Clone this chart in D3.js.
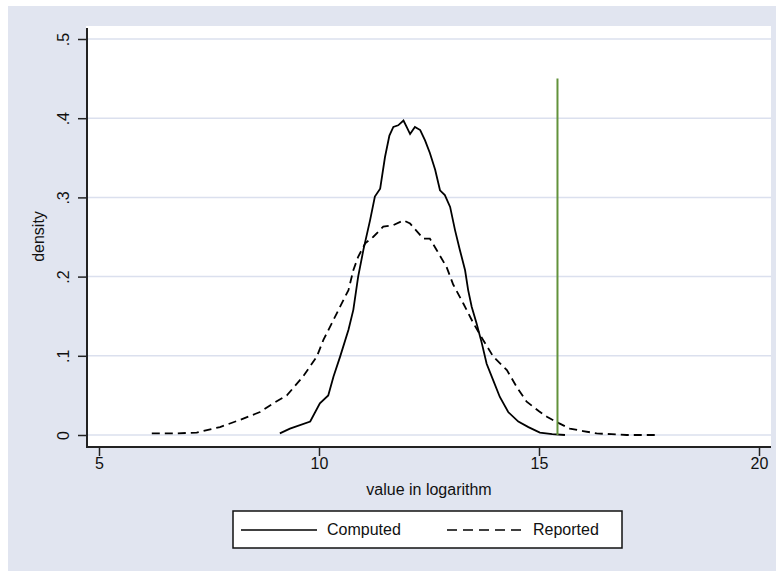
<!DOCTYPE html>
<html>
<head>
<meta charset="utf-8">
<script src="https://cdn.jsdelivr.net/npm/d3@7"></script>
<style>
  html, body { margin: 0; padding: 0; background: #fff; overflow: hidden; }
  svg { display: block; }
  svg text { font-family: "Liberation Sans", Arial, sans-serif; fill: #111; }
</style>
</head>
<body>
<div id="density-chart"></div>
<script>
// log values and kernel density estimates
var computedX = [9.11, 9.34, 9.80, 10.02, 10.21, 10.33, 10.48, 10.67, 10.78, 10.89, 11.01, 11.16, 11.27, 11.39, 11.50, 11.60, 11.69, 11.80, 11.92, 12.00, 12.07, 12.18, 12.30, 12.41, 12.52, 12.64, 12.75, 12.86, 12.98, 13.09, 13.20, 13.32, 13.39, 13.47, 13.58, 13.70, 13.81, 13.96, 14.11, 14.30, 14.53, 14.76, 15.02, 15.30, 15.59];
var computedY = [0.002, 0.008, 0.017, 0.040, 0.050, 0.074, 0.099, 0.133, 0.158, 0.200, 0.234, 0.271, 0.301, 0.311, 0.351, 0.378, 0.389, 0.391, 0.397, 0.388, 0.380, 0.389, 0.385, 0.372, 0.356, 0.335, 0.309, 0.303, 0.288, 0.259, 0.234, 0.208, 0.183, 0.162, 0.141, 0.116, 0.090, 0.069, 0.048, 0.029, 0.017, 0.010, 0.003, 0.001, 0.000];

var reportedX = [6.20, 6.70, 7.22, 7.75, 8.20, 8.66, 8.96, 9.27, 9.64, 9.95, 10.10, 10.29, 10.48, 10.67, 10.78, 10.89, 11.05, 11.23, 11.46, 11.69, 11.92, 12.07, 12.37, 12.52, 12.67, 12.90, 13.05, 13.28, 13.51, 13.73, 13.96, 14.27, 14.49, 14.72, 15.00, 15.18, 15.45, 15.70, 16.00, 16.31, 16.65, 16.99, 17.35, 17.71];
var reportedY = [0.002, 0.002, 0.003, 0.010, 0.019, 0.029, 0.040, 0.050, 0.074, 0.099, 0.120, 0.141, 0.162, 0.183, 0.208, 0.225, 0.242, 0.250, 0.263, 0.265, 0.271, 0.267, 0.248, 0.248, 0.234, 0.212, 0.190, 0.166, 0.141, 0.120, 0.099, 0.082, 0.061, 0.042, 0.030, 0.023, 0.015, 0.008, 0.005, 0.002, 0.001, 0.000, 0.000, 0.000];

var markerX = 15.42;
var markerY = [0, 0.45];

var xTicks = [5, 10, 15, 20];
var yTicks = [0, 0.1, 0.2, 0.3, 0.4, 0.5];
var legendLabels = ['Computed', 'Reported'];

// svg drawn a bit larger than the window so the graph region runs off the edges
var width = 820, height = 620;
var plot = { left: 87, right: 771, top: 26, bottom: 447 };

var svg = d3.select('#density-chart').append('svg')
  .attr('width', width).attr('height', height);

// graph region + plot region
svg.append('rect').attr('x', 8).attr('y', 6)
  .attr('width', width - 8).attr('height', height - 6)
  .attr('fill', '#e1e5f0');
svg.append('rect').attr('x', plot.left - 1).attr('y', plot.top)
  .attr('width', plot.right - plot.left + 1).attr('height', plot.bottom - plot.top)
  .attr('fill', '#fff');

var x = d3.scaleLinear().domain([5, 20]).range([99, 759]);
var y = d3.scaleLinear().domain([0, 0.5]).range([435, 39]);

svg.append('g').selectAll('line').data(yTicks).join('line')
  .attr('x1', plot.left).attr('x2', plot.right)
  .attr('y1', function (d) { return y(d); })
  .attr('y2', function (d) { return y(d); })
  .attr('stroke', '#dbe0ee').attr('stroke-width', 1.5);

var line = d3.line()
  .x(function (d) { return x(d[0]); })
  .y(function (d) { return y(d[1]); });

svg.append('path')
  .datum(d3.zip(computedX, computedY))
  .attr('d', line)
  .attr('fill', 'none').attr('stroke', '#000').attr('stroke-width', 1.8);

svg.append('path')
  .datum(d3.zip(reportedX, reportedY))
  .attr('d', line)
  .attr('fill', 'none').attr('stroke', '#000').attr('stroke-width', 1.8)
  .attr('stroke-dasharray', '8,5');

svg.append('line')
  .attr('x1', x(markerX)).attr('x2', x(markerX))
  .attr('y1', y(markerY[0])).attr('y2', y(markerY[1]))
  .attr('stroke', '#62923b').attr('stroke-width', 2);

// axes
var xAxis = svg.append('g')
  .attr('transform', 'translate(0,' + plot.bottom + ')')
  .call(d3.axisBottom(x).tickValues(xTicks).tickSize(9).tickPadding(2).tickFormat(d3.format('d')));
var yAxis = svg.append('g')
  .attr('transform', 'translate(' + plot.left + ',0)')
  .call(d3.axisLeft(y).tickValues(yTicks).tickSize(9)
    .tickFormat(function (d) { return d === 0 ? '0' : d3.format('.1f')(d).replace('0.', '.'); }));

[xAxis, yAxis].forEach(function (g) {
  g.select('.domain').remove();
  g.selectAll('.tick line').attr('stroke', '#222').attr('stroke-width', 1.5);
  g.selectAll('.tick text').attr('font-size', 16).attr('fill', '#111');
});

yAxis.selectAll('.tick text')
  .attr('x', null).attr('dy', null)
  .attr('text-anchor', 'middle')
  .attr('transform', 'translate(-18,0) rotate(-90)');

svg.append('line')
  .attr('x1', plot.left).attr('x2', plot.left)
  .attr('y1', 28).attr('y2', plot.bottom + 1)
  .attr('stroke', '#222').attr('stroke-width', 2);
svg.append('line')
  .attr('x1', plot.left).attr('x2', plot.right)
  .attr('y1', plot.bottom).attr('y2', plot.bottom)
  .attr('stroke', '#222').attr('stroke-width', 2);

svg.append('text')
  .attr('x', (plot.left + plot.right) / 2).attr('y', 495)
  .attr('text-anchor', 'middle').attr('font-size', 16)
  .text('value in logarithm');
svg.append('text')
  .attr('transform', 'translate(44,' + (plot.top + plot.bottom) / 2 + ') rotate(-90)')
  .attr('text-anchor', 'middle').attr('font-size', 16)
  .text('density');

// legend
var legend = svg.append('g').attr('transform', 'translate(233,511)');
legend.append('rect').attr('width', 389).attr('height', 37)
  .attr('fill', '#fff').attr('stroke', '#111').attr('stroke-width', 1.5);
var item = legend.selectAll('g.item').data(legendLabels).join('g')
  .attr('class', 'item')
  .attr('transform', function (d, i) { return 'translate(' + (8 + i * 206) + ',0)'; });
item.append('line')
  .attr('x1', 0).attr('x2', 76).attr('y1', 19).attr('y2', 19)
  .attr('stroke', '#000').attr('stroke-width', 1.6)
  .attr('stroke-dasharray', function (d, i) { return i ? '10,6' : null; });
item.append('text')
  .attr('x', 86).attr('y', 24).attr('font-size', 16)
  .text(function (d) { return d; });
</script>
</body>
</html>
